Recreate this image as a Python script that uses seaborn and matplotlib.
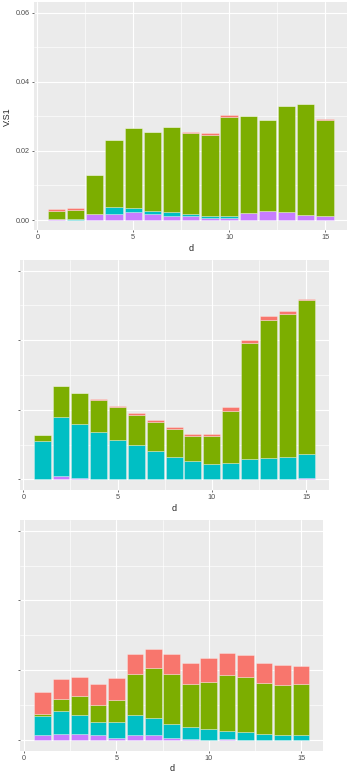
import matplotlib
matplotlib.use("Agg")
import matplotlib.pyplot as plt
import numpy as np
import pandas as pd
import seaborn as sns

# x positions shared by all three panels
d = list(range(1, 16))

# component order (top of stack first), ggplot-style hue colours
groups = ["A", "B", "C", "D"]
colors = ["#F8766D", "#7CAE00", "#00BFC4", "#C77CFF"]

# --- panel 1 (V.S1) ---
top_A = [0.0004, 0.0005, 0.0000, 0.0000, 0.0000, 0.0000, 0.0000, 0.0003, 0.0006, 0.0005,
         0.0000, 0.0000, 0.0000, 0.0000, 0.0002]
top_B = [0.0025, 0.0028, 0.0112, 0.0194, 0.0230, 0.0227, 0.0245, 0.0234, 0.0234, 0.0287,
         0.0280, 0.0264, 0.0305, 0.0320, 0.0277]
top_C = [0.0000, 0.0002, 0.0000, 0.0019, 0.0014, 0.0010, 0.0011, 0.0005, 0.0007, 0.0007,
         0.0000, 0.0000, 0.0000, 0.0000, 0.0000]
top_D = [0.0002, 0.0000, 0.0017, 0.0018, 0.0022, 0.0017, 0.0013, 0.0012, 0.0005, 0.0005,
         0.0020, 0.0025, 0.0024, 0.0016, 0.0013]

# --- panel 2 ---
mid_A = [0.0000, 0.0000, 0.0000, 0.0003, 0.0003, 0.0004, 0.0005, 0.0005, 0.0004, 0.0004,
         0.0011, 0.0010, 0.0011, 0.0008, 0.0003]
mid_B = [0.0017, 0.0088, 0.0090, 0.0093, 0.0093, 0.0088, 0.0086, 0.0079, 0.0072, 0.0082,
         0.0150, 0.0333, 0.0398, 0.0411, 0.0444]
mid_C = [0.0108, 0.0171, 0.0154, 0.0133, 0.0113, 0.0098, 0.0080, 0.0065, 0.0053, 0.0043,
         0.0047, 0.0058, 0.0060, 0.0065, 0.0069]
mid_D = [0.0002, 0.0009, 0.0004, 0.0002, 0.0001, 0.0000, 0.0000, 0.0000, 0.0000, 0.0000,
         0.0000, 0.0000, 0.0000, 0.0000, 0.0004]

# --- panel 3 ---
bot_A = [0.0063, 0.0058, 0.0056, 0.0059, 0.0063, 0.0058, 0.0056, 0.0057, 0.0060, 0.0067,
         0.0063, 0.0063, 0.0057, 0.0056, 0.0053]
bot_B = [0.0006, 0.0034, 0.0053, 0.0049, 0.0063, 0.0116, 0.0143, 0.0144, 0.0124, 0.0135,
         0.0159, 0.0158, 0.0145, 0.0144, 0.0147]
bot_C = [0.0054, 0.0065, 0.0055, 0.0039, 0.0045, 0.0060, 0.0050, 0.0040, 0.0032, 0.0032,
         0.0023, 0.0023, 0.0018, 0.0015, 0.0013]
bot_D = [0.0015, 0.0018, 0.0018, 0.0013, 0.0006, 0.0013, 0.0013, 0.0006, 0.0004, 0.0000,
         0.0004, 0.0000, 0.0000, 0.0000, 0.0000]

x_ticks = [0, 5, 10, 15]
y_ticks = [0.00, 0.02, 0.04, 0.06]
y_tick_labels = ["0.00", "0.02", "0.04", "0.06"]


def long_frame(a, b, c, dd):
    rows = []
    for g, vals in zip(groups, [a, b, c, dd]):
        for x, v in zip(d, vals):
            rows.append({"d": x, "group": g, "V.S1": v})
    return pd.DataFrame(rows)


sns.set_theme(style="darkgrid", rc={
    "axes.facecolor": "#EBEBEB",
    "grid.color": "white",
    "axes.edgecolor": "#EBEBEB",
})
plt.rcParams["font.family"] = ["Liberation Sans", "DejaVu Sans"]

W, H = 347, 773
fig = plt.figure(figsize=(W / 100, H / 100), dpi=100)
fig.patch.set_facecolor("white")

XLIM = (-0.195, 16.195)
YLIM = (-0.003, 0.063)

# (x px of d=0, px per unit d, top px, bottom px)
layout = [
    (37.3, 19.18, 2.3, 230.4),
    (23.3, 18.85, 260.3, 489.7),
    (24.0, 18.47, 520.2, 750.5),
]
panels = [
    (top_A, top_B, top_C, top_D),
    (mid_A, mid_B, mid_C, mid_D),
    (bot_A, bot_B, bot_C, bot_D),
]

for i, ((x0, sx, ytop, ybot), vals) in enumerate(zip(layout, panels)):
    left = x0 + XLIM[0] * sx
    right = x0 + XLIM[1] * sx
    ax = fig.add_axes([left / W, 1 - ybot / H, (right - left) / W, (ybot - ytop) / H])
    df = long_frame(*vals)
    sns.histplot(data=df, x="d", weights="V.S1", hue="group", hue_order=groups,
                 palette=dict(zip(groups, colors)), multiple="stack", discrete=True,
                 shrink=0.9, alpha=1, edgecolor=(1, 1, 1, 0.35), linewidth=0.6,
                 legend=False, ax=ax)
    ax.set_xlim(*XLIM)
    ax.set_ylim(*YLIM)
    ax.set_xticks(x_ticks)
    ax.set_xticks([2.5, 7.5, 12.5], minor=True)
    ax.set_yticks(y_ticks)
    ax.set_yticks([0.01, 0.03, 0.05], minor=True)
    ax.grid(which="major", color="white", linewidth=0.8)
    ax.grid(which="minor", color="white", linewidth=0.45)
    ax.set_axisbelow(True)
    for s in ax.spines.values():
        s.set_visible(False)
    ax.tick_params(axis="both", which="major", length=1.6, width=0.5, color="#333333",
                   labelsize=5.2, labelcolor="#4D4D4D", pad=1.3)
    ax.tick_params(axis="both", which="minor", length=0)
    ax.tick_params(axis="x", bottom=True)
    ax.tick_params(axis="y", left=True)
    ax.set_xticklabels([str(t) for t in x_ticks])
    if i == 0:
        ax.set_yticklabels(y_tick_labels)
        ax.set_ylabel("V.S1", fontsize=6.5, labelpad=2.5)
    else:
        ax.set_yticklabels([])
        ax.set_ylabel("")
    ax.set_xlabel("d", fontsize=6.5, labelpad=2.0)

fig.savefig("out.png", dpi=100)
